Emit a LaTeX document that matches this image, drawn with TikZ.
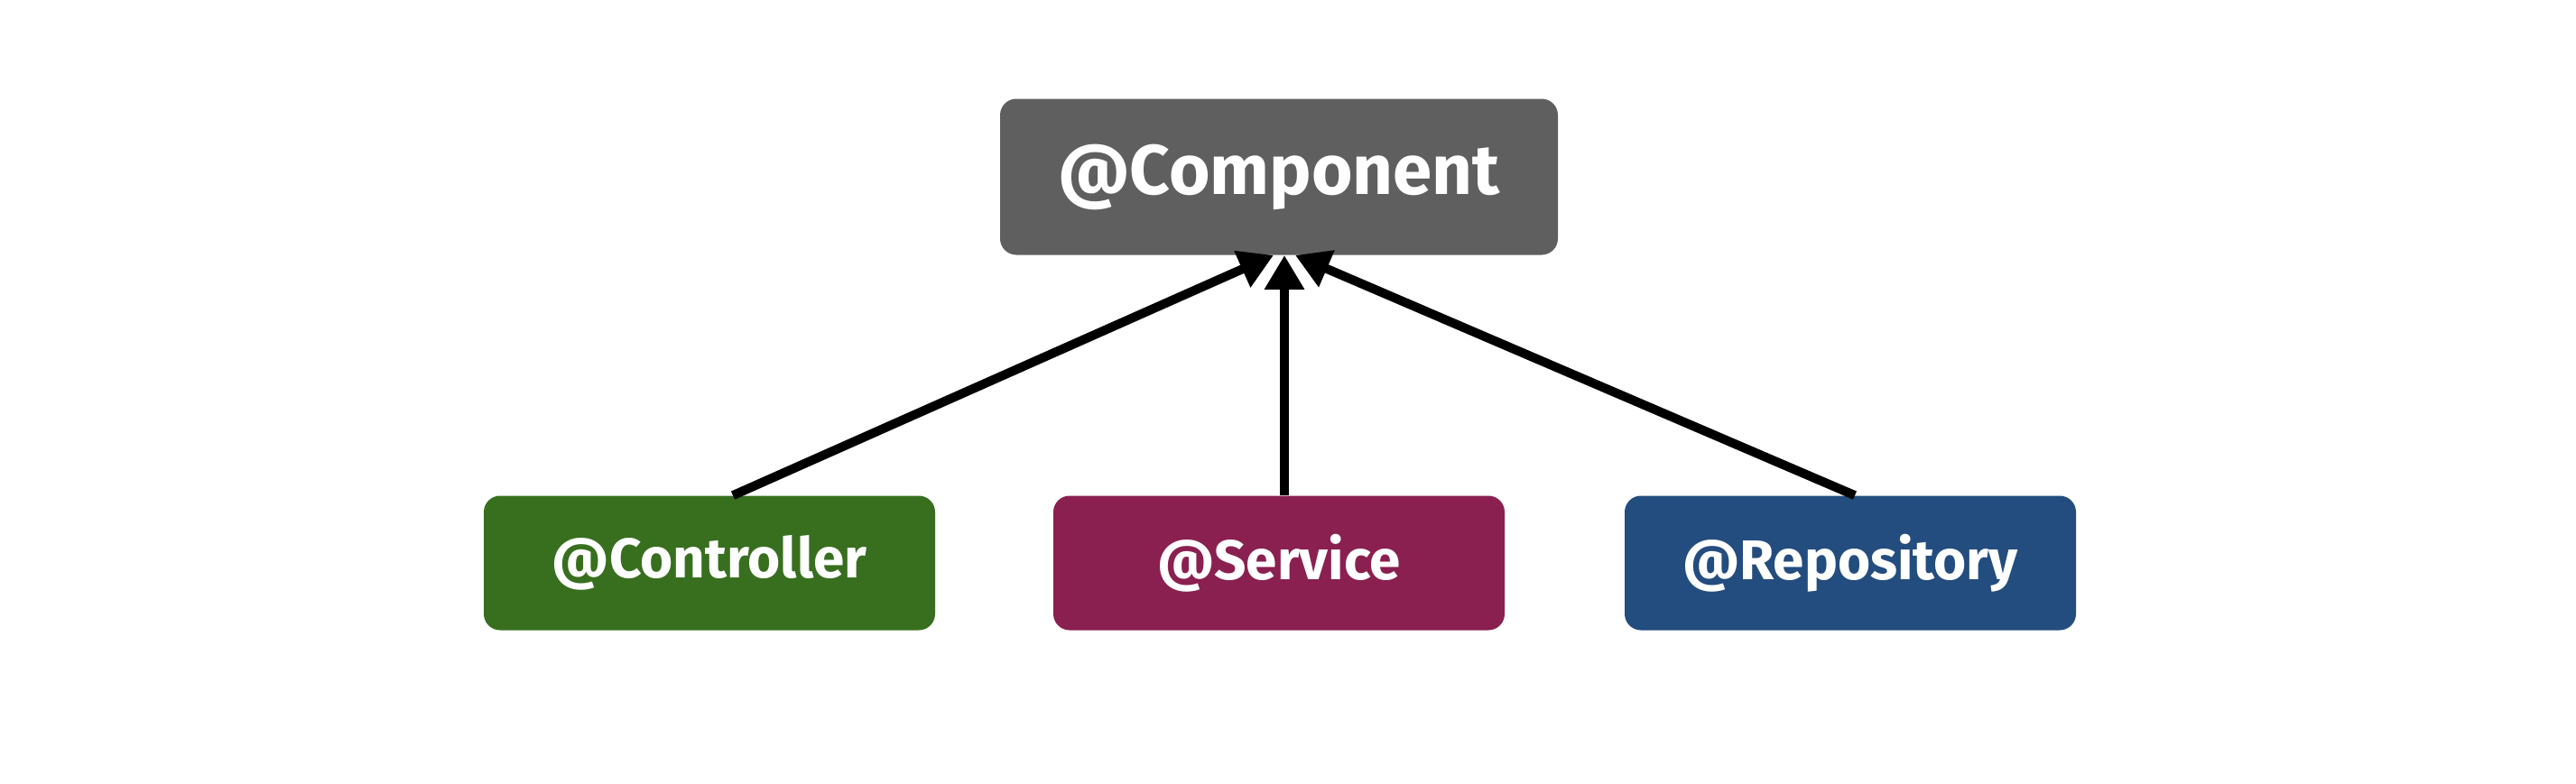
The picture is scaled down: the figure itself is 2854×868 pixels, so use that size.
\documentclass[tikz,border=0pt]{standalone}
\usepackage{fontspec}
\newfontfamily\lblfont{Fira Sans}
\usetikzlibrary{arrows.meta,calc}
\definecolor{compgray}{HTML}{5F5F5F}
\definecolor{ctrlgreen}{HTML}{386F1F}
\definecolor{servred}{HTML}{8A2050}
\definecolor{repoblue}{HTML}{234D7E}
\tikzset{
  box/.style={rounded corners=9pt, inner sep=0pt, text=white, font=\lblfont\fontsize{31}{35}\selectfont\bfseries},
  bigbox/.style={box, minimum width=309pt, minimum height=86.5pt, font=\lblfont\fontsize{39}{43}\selectfont\bfseries},
  smallbox/.style={box, minimum width=250pt, minimum height=74.5pt},
  link/.style={line width=5pt, -{Triangle[length=19pt,width=21pt]}}
}
\begin{document}
\begin{tikzpicture}[x=0.5pt,y=-0.5pt]
\useasboundingbox (0,0) rectangle (2854,868);
\node[bigbox, fill=compgray] (comp) at (1417,196) {@Component};
\node[smallbox, fill=ctrlgreen] (ctrl) at (786,624) {@Controller};
\node[smallbox, fill=servred] (serv) at (1417,624) {@Service};
\node[smallbox, fill=repoblue] (repo) at (2050,624) {@Repository};
\coordinate (s1) at ($(ctrl.north)+(13pt,0)$);
\coordinate (s2) at ($(serv.north)+(3pt,0)$);
\coordinate (s3) at ($(repo.north)+(2.5pt,0)$);
\coordinate (e1) at ($(comp.south)+(-3pt,0)$);
\coordinate (e2) at ($(comp.south)+(3pt,0)$);
\coordinate (e3) at ($(comp.south)+(9pt,0)$);
\draw[link] (s1) -- (e1);
\draw[link] (s2) -- (e2);
\draw[link] (s3) -- (e3);
\end{tikzpicture}
\end{document}
